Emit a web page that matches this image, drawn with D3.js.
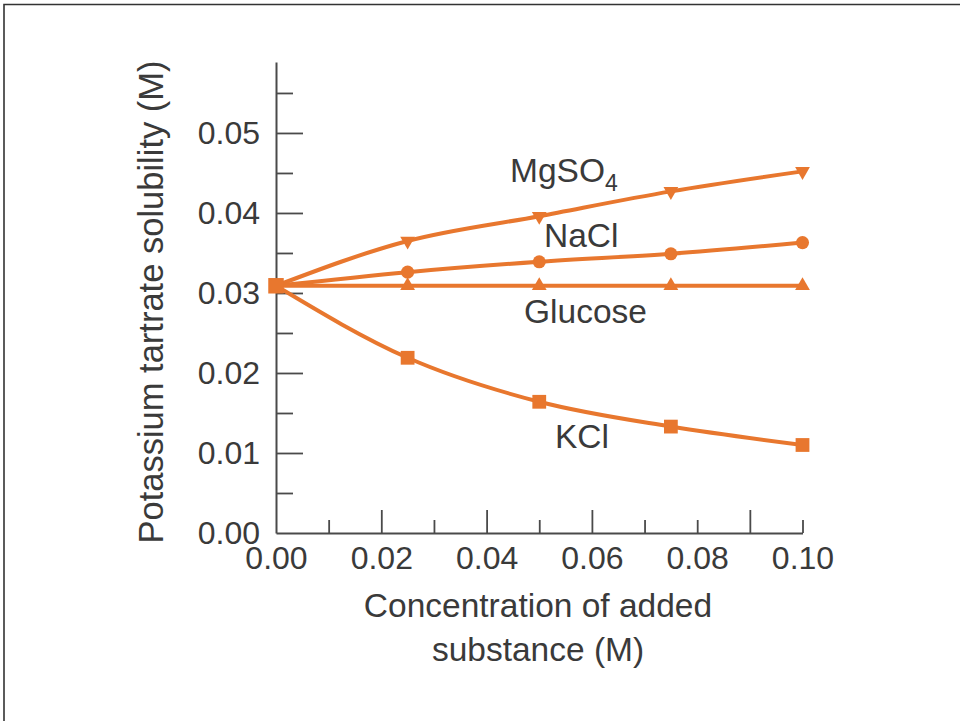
<!DOCTYPE html>
<html>
<head>
<meta charset="utf-8">
<script src="https://cdn.jsdelivr.net/npm/d3@7"></script>
<style>
  html, body { margin: 0; padding: 0; background: #ffffff; }
  svg { display: block; }
  text { font-family: "Liberation Sans", Arial, Helvetica, sans-serif; fill: #3a3a3a; }
</style>
</head>
<body>
<svg id="chart" width="960" height="721"></svg>
<script>
// ---- data ----
const concentrations = [0, 0.025, 0.05, 0.075, 0.10];
const mgso4Values   = [0.0309, 0.0365, 0.0396, 0.0427, 0.0452];
const naclValues    = [0.0309, 0.0326, 0.0339, 0.0349, 0.0363];
const glucoseValues = [0.0309, 0.0309, 0.0309, 0.0309, 0.0309];
const kclValues     = [0.0309, 0.0219, 0.0164, 0.0133, 0.0110];

const xLabelTicks = [0.00, 0.02, 0.04, 0.06, 0.08, 0.10];
const xMarkTicks  = [0.01, 0.02, 0.03, 0.04, 0.05, 0.06, 0.07, 0.08, 0.09, 0.10];
const xLongTicks  = [0.02, 0.04, 0.06, 0.09];
const yLabelTicks = [0.00, 0.01, 0.02, 0.03, 0.04, 0.05];
const yMinorTicks = [0.005, 0.015, 0.025, 0.035, 0.045, 0.055];

const seriesNames = ["MgSO4", "NaCl", "Glucose", "KCl"];
const seriesValues = [mgso4Values, naclValues, glucoseValues, kclValues];
const seriesSymbols = ["triDown", "circle", "triUp", "square"];

const xTitleLines = ["Concentration of added", "substance (M)"];
const yTitle = "Potassium tartrate solubility (M)";

// ---- layout ----
const svg = d3.select("#chart");
const orange = "#e8772e";
const axisColor = "#4a4a4a";

const x = d3.scaleLinear().domain([0, 0.10]).range([276, 802.5]);
const y = d3.scaleLinear().domain([0, 0.05887]).range([533, 62]);

// frame (top and left edges)
svg.append("path")
  .attr("d", "M4,721V4.5H960")
  .attr("fill", "none").attr("stroke", "#333").attr("stroke-width", 1.6);

// ---- axes ----
const fmt = d3.format(".2f");

// y axis labels + domain
const gy = svg.append("g").attr("transform", `translate(${x(0)},0)`)
  .call(d3.axisLeft(y).tickValues(yLabelTicks).tickSize(0).tickPadding(16).tickFormat(fmt));
gy.select(".domain").attr("stroke", axisColor).attr("stroke-width", 2);
gy.selectAll("text").attr("font-size", 32).style("fill", "#3a3a3a")
  .attr("font-family", "Liberation Sans, Arial, sans-serif");

// y inward ticks
const gyMaj = svg.append("g").attr("transform", `translate(${x(0)},0)`)
  .call(d3.axisRight(y).tickValues(yLabelTicks.filter(v => v > 0)).tickSize(27).tickFormat(""));
gyMaj.select(".domain").remove();
gyMaj.selectAll("line").attr("stroke", axisColor).attr("stroke-width", 1.8);
const gyMin = svg.append("g").attr("transform", `translate(${x(0)},0)`)
  .call(d3.axisRight(y).tickValues(yMinorTicks).tickSize(17).tickFormat(""));
gyMin.select(".domain").remove();
gyMin.selectAll("line").attr("stroke", axisColor).attr("stroke-width", 1.8);

// x axis labels + domain
const gx = svg.append("g").attr("transform", `translate(0,${y(0)})`)
  .call(d3.axisBottom(x).tickValues(xLabelTicks).tickSize(0).tickPadding(13).tickFormat(fmt));
gx.select(".domain").attr("stroke", axisColor).attr("stroke-width", 2);
gx.selectAll("text").attr("font-size", 32).style("fill", "#3a3a3a")
  .attr("font-family", "Liberation Sans, Arial, sans-serif");

const gxMarks = svg.append("g").attr("transform", `translate(0,${y(0)})`)
  .call(d3.axisTop(x).tickValues(xMarkTicks).tickSize(13).tickFormat(""));
gxMarks.select(".domain").remove();
gxMarks.selectAll(".tick line")
  .attr("y2", d => xLongTicks.some(v => Math.abs(v - d) < 1e-9) ? -23 : -13)
  .attr("stroke", axisColor).attr("stroke-width", 1.8);

// axis titles
svg.append("text")
  .attr("transform", `translate(163,302) rotate(-90)`)
  .attr("text-anchor", "middle").attr("font-size", 34.5)
  .text(yTitle);

svg.append("text").attr("x", 538).attr("y", 617)
  .attr("text-anchor", "middle").attr("font-size", 33.5).text(xTitleLines[0]);
svg.append("text").attr("x", 538).attr("y", 661)
  .attr("text-anchor", "middle").attr("font-size", 33.5).text(xTitleLines[1]);

// ---- lines ----
const line = d3.line()
  .x((d, i) => x(concentrations[i]))
  .y(d => y(d))
  .curve(d3.curveMonotoneX);

seriesValues.forEach(vals => {
  svg.append("path").datum(vals)
    .attr("d", line)
    .attr("fill", "none").attr("stroke", orange)
    .attr("stroke-width", 4).attr("stroke-linejoin", "round");
});

// ---- markers ----
const symbolFor = {
  triDown: d3.symbol().type(d3.symbolTriangle).size(95),
  triUp: d3.symbol().type(d3.symbolTriangle).size(95),
  circle: d3.symbol().type(d3.symbolCircle).size(135),
  square: d3.symbol().type(d3.symbolSquare).size(190)
};

seriesValues.forEach((vals, si) => {
  const sym = seriesSymbols[si];
  svg.append("g").selectAll("path")
    .data(vals.slice(1))
    .join("path")
    .attr("d", symbolFor[sym]())
    .attr("transform", (d, i) => `translate(${x(concentrations[i + 1])},${y(d)})` + (sym === "triDown" ? " rotate(180)" : ""))
    .attr("fill", orange);
});

// origin square (shared starting point)
svg.append("path")
  .attr("d", d3.symbol().type(d3.symbolSquare).size(240)())
  .attr("transform", `translate(${x(concentrations[0])},${y(mgso4Values[0])})`)
  .attr("fill", orange);

// ---- series labels ----
const lab = svg.append("g").attr("font-size", 33.5);
const mg = lab.append("text").attr("x", 510).attr("y", 182);
mg.append("tspan").text("MgSO");
mg.append("tspan").attr("font-size", 23).attr("dy", 9).text("4");
lab.append("text").attr("x", 544).attr("y", 247).text(seriesNames[1]);
lab.append("text").attr("x", 524).attr("y", 323).text(seriesNames[2]);
lab.append("text").attr("x", 555).attr("y", 448).text(seriesNames[3]);
</script>
</body>
</html>
